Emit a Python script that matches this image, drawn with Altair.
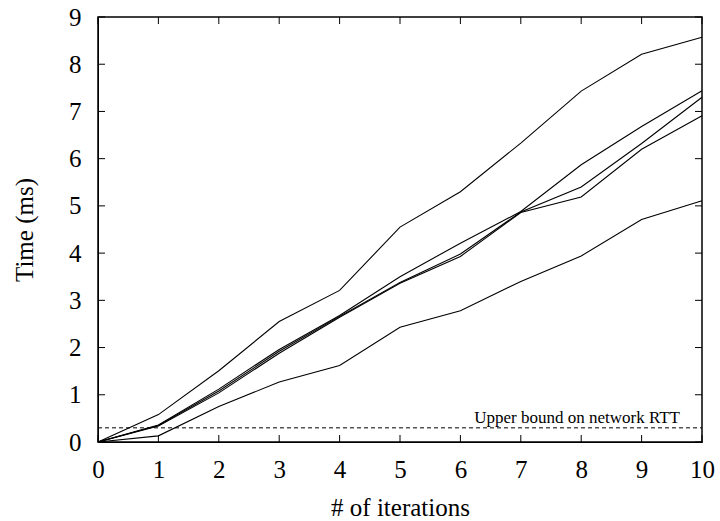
import altair as alt
import pandas as pd

iterations = [0, 1, 2, 3, 4, 5, 6, 7, 8, 9, 10]
series_a = [0, 0.58, 1.51, 2.55, 3.21, 4.55, 5.30, 6.33, 7.43, 8.21, 8.57]
series_b = [0, 0.36, 1.12, 1.96, 2.68, 3.50, 4.21, 4.88, 5.87, 6.68, 7.44]
series_c = [0, 0.35, 1.08, 1.92, 2.66, 3.38, 3.98, 4.87, 5.40, 6.32, 7.30]
series_d = [0, 0.34, 1.04, 1.88, 2.64, 3.36, 3.93, 4.86, 5.19, 6.20, 6.91]
series_e = [0, 0.13, 0.75, 1.27, 1.62, 2.43, 2.78, 3.40, 3.94, 4.71, 5.11]
rtt_bound = 0.3
rtt_label = "Upper bound on network RTT"
x_ticks = list(range(0, 11))
y_ticks = list(range(0, 10))

W, H = 604, 425
FONT = "Liberation Serif"
LFS = 25
TFS = 25

rows = []
for name, vals in [("a", series_a), ("b", series_b), ("c", series_c), ("d", series_d), ("e", series_e)]:
    for xi, v in zip(iterations, vals):
        rows.append({"series": name, "iter": xi, "time": v})
df = pd.DataFrame(rows)

xscale = alt.Scale(domain=[0, 10], nice=False)
yscale = alt.Scale(domain=[0, 9], nice=False)

xaxis = alt.Axis(values=x_ticks, format="d", title="# of iterations", ticks=False, grid=False,
                 labelFontSize=LFS, titleFontSize=TFS, labelFont=FONT, titleFont=FONT,
                 labelColor="black", titleColor="black", domainColor="black",
                 labelFlush=False, labelOverlap=False,
                 labelPadding=15, titlePadding=13, titleFontWeight="normal")
yaxis = alt.Axis(values=y_ticks, format="d", title="Time (ms)", ticks=False, grid=False,
                 labelFontSize=LFS, titleFontSize=TFS, labelFont=FONT, titleFont=FONT,
                 labelColor="black", titleColor="black", domainColor="black",
                 labelFlush=False, labelOverlap=False,
                 labelPadding=17, titlePadding=31, titleFontWeight="normal")

lines = alt.Chart(df).mark_line(color="black", strokeWidth=1.1).encode(
    x=alt.X("iter:Q", scale=xscale, axis=xaxis),
    y=alt.Y("time:Q", scale=yscale, axis=yaxis),
    detail="series:N",
)

rtt_df = pd.DataFrame({"y": [rtt_bound], "label": [rtt_label]})
rule = alt.Chart(rtt_df).mark_rule(color="black", strokeDash=[4, 3], strokeWidth=1).encode(
    y=alt.Y("y:Q", scale=yscale),
    x=alt.value(0), x2=alt.value(W),
)
label = alt.Chart(rtt_df).mark_text(font=FONT, fontSize=17, align="right",
                                    baseline="bottom", dy=-1, color="black").encode(
    y=alt.Y("y:Q", scale=yscale),
    x=alt.value(582),
    text="label:N",
)

xt = pd.DataFrame({"v": x_ticks})
yt = pd.DataFrame({"v": y_ticks})
TL = 7
xb = alt.Chart(xt).mark_rule(color="black").encode(x=alt.X("v:Q", scale=xscale), y=alt.value(H), y2=alt.value(H - TL))
xtop = alt.Chart(xt).mark_rule(color="black").encode(x=alt.X("v:Q", scale=xscale), y=alt.value(0), y2=alt.value(TL))
yl = alt.Chart(yt).mark_rule(color="black").encode(y=alt.Y("v:Q", scale=yscale), x=alt.value(0), x2=alt.value(TL))
yr = alt.Chart(yt).mark_rule(color="black").encode(y=alt.Y("v:Q", scale=yscale), x=alt.value(W), x2=alt.value(W - TL))

chart = alt.layer(rule, label, lines, xb, xtop, yl, yr).properties(
    width=W, height=H,
    padding={"left": 98, "top": 17, "right": 18, "bottom": 79},
    autosize=alt.AutoSizeParams(type="none"),
    background="white",
).configure_view(stroke="black", strokeWidth=1.5)

chart.save("out.html", embed_options={"renderer": "svg", "actions": False})
